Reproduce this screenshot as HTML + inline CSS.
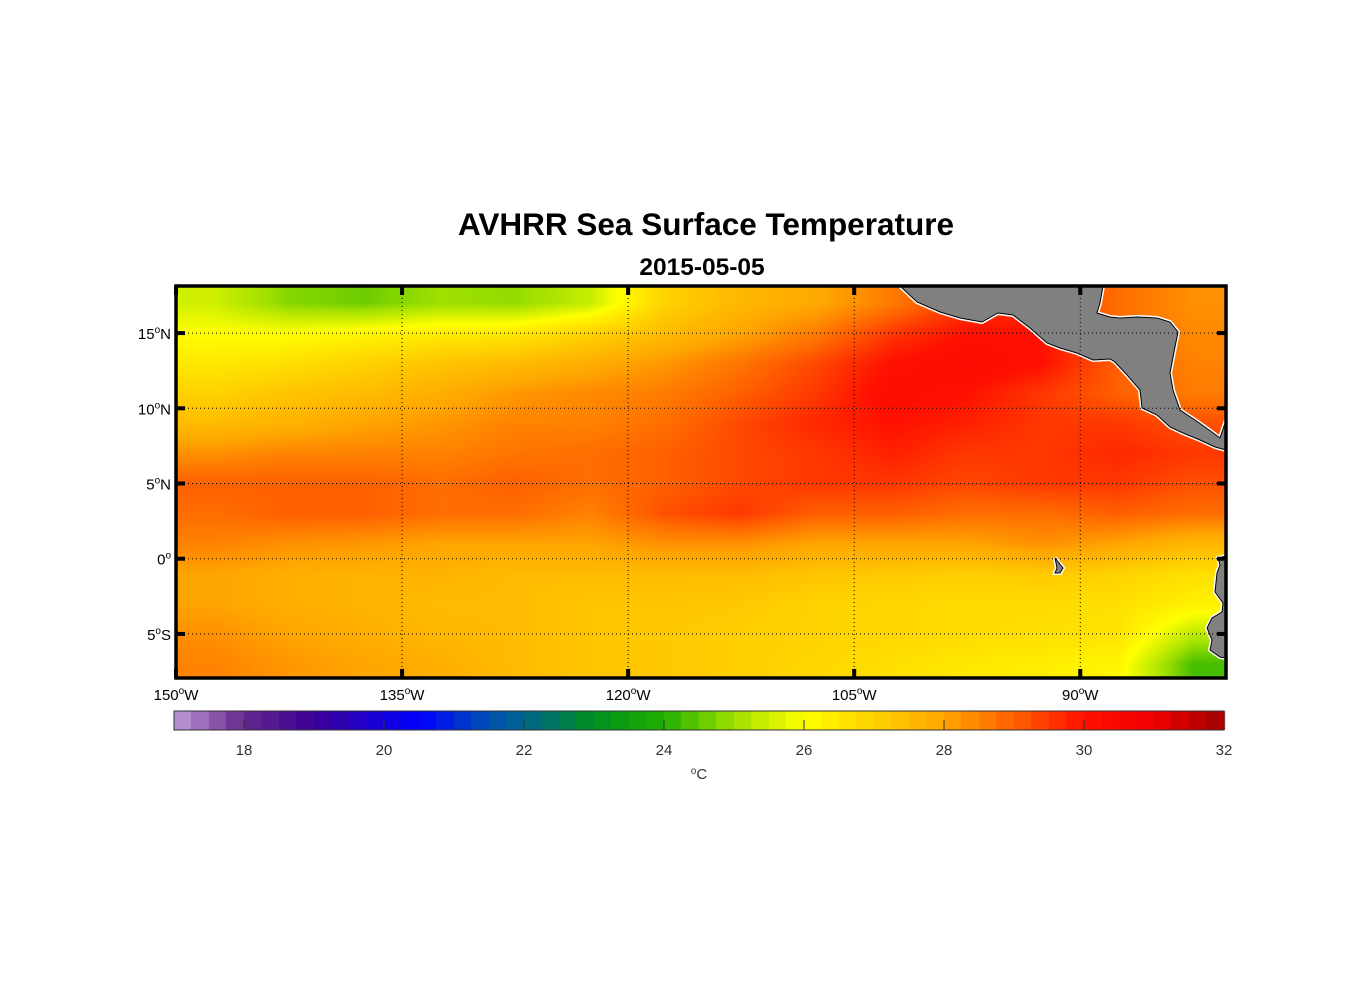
<!DOCTYPE html>
<html><head><meta charset="utf-8">
<style>
body{margin:0;background:#fff;width:1356px;height:1000px;overflow:hidden;font-family:"Liberation Sans",Arial,sans-serif;}
#wrap{position:relative;width:1356px;height:1000px;}
canvas,svg{position:absolute;left:0;top:0;}
</style></head>
<body>
<div id="wrap">
<canvas id="heat" width="1356" height="1000"></canvas>
<svg id="ov" width="1356" height="1000"></svg>
</div>
<script>
// ---- data ----
const lonCenters = [-147.5,-142.5,-137.5,-132.5,-127.5,-122.5,-117.5,-112.5,-107.5,-102.5,-97.5,-92.5,-87.5,-82.5];
const latCenters = [17,15,13,11,9,7,5,3,1,-1,-3,-5,-7];
const sstRow17 = [25.5,24.8,24.6,25.0,24.9,25.4,27.0,27.6,27.9,28.6,29.5,29.6,28.8,28.3];
const sstRow15 = [26.0,26.0,26.2,26.4,26.5,27.0,27.5,28.0,28.6,29.5,30.0,30.0,28.8,28.4];
const sstRow13 = [26.5,26.7,27.0,27.3,27.5,27.8,28.2,28.7,29.3,30.0,30.3,30.0,29.0,28.5];
const sstRow11 = [27.0,27.3,27.5,27.8,28.2,28.4,28.6,29.0,29.5,30.2,30.0,29.5,29.0,28.6];
const sstRow9  = [27.5,27.7,28.0,28.2,28.5,28.5,28.8,29.3,29.7,30.0,29.8,29.5,29.5,29.2];
const sstRow7  = [28.3,28.5,28.5,28.5,28.7,28.8,29.0,29.3,29.5,29.8,29.5,29.5,29.7,29.5];
const sstRow5  = [29.0,29.0,29.0,28.8,29.0,28.8,29.0,29.3,29.5,29.5,29.3,29.5,29.5,29.2];
const sstRow3  = [28.8,29.0,29.0,28.8,28.8,28.5,29.2,29.5,29.0,29.0,28.8,28.8,29.0,28.8];
const sstRow1  = [28.5,28.3,28.2,28.0,28.0,28.0,28.3,28.3,28.0,28.0,28.0,28.3,28.0,27.6];
const sstRowM1 = [28.0,27.8,27.7,27.7,27.5,27.5,27.5,27.5,27.3,27.2,27.1,27.2,27.0,26.7];
const sstRowM3 = [28.0,27.8,27.7,27.5,27.5,27.3,27.3,27.2,27.0,26.9,26.8,26.8,26.7,26.3];
const sstRowM5 = [28.3,28.0,27.8,27.6,27.5,27.3,27.2,27.1,27.0,26.9,26.8,26.7,26.6,25.3];
const sstRowM7 = [28.5,28.2,28.0,27.8,27.5,27.3,27.2,27.1,26.9,26.7,26.5,26.4,26.2,24.3];
const sstGrid = [sstRow17,sstRow15,sstRow13,sstRow11,sstRow9,sstRow7,sstRow5,sstRow3,sstRow1,sstRowM1,sstRowM3,sstRowM5,sstRowM7];
const lonTicks = [-150,-135,-120,-105,-90];
const lonTickLabels = ["150","135","120","105","90"];
const latTicks = [15,10,5,0,-5];
const latTickLabels = ["15","10","5","0","5"];
const latTickSuffix = ["N","N","N","",'S'];
const cbTicks = [18,20,22,24,26,28,30,32];

// ---- axes ----
const X0=176, X1=1226, Y0=286, Y1=678;
const LON0=-150, LON1=-80.33, LAT0=18.13, LAT1=-7.93;
function xOf(lon){return X0+(lon-LON0)/(LON1-LON0)*(X1-X0);}
function yOf(lat){return Y0+(lat-LAT0)/(LAT1-LAT0)*(Y1-Y0);}
const CB0=174, CB1=1224, CBV0=17, CBV1=32;
function cbX(v){return CB0+(v-CBV0)/(CBV1-CBV0)*(CB1-CB0);}

const cmapStops=[[17,[192,154,216]],[18,[100,40,140]],[19,[60,0,150]],[20.5,[0,0,255]],[21.5,[0,80,180]],[22.3,[0,112,112]],[23,[0,144,32]],[24,[32,176,0]],[25,[160,224,0]],[26,[255,255,0]],[27,[255,210,0]],[28,[255,165,0]],[29,[255,96,0]],[30,[255,16,0]],[31,[240,0,0]],[32,[160,0,0]]];
function cmap(v){
  if(v<=cmapStops[0][0]) return cmapStops[0][1];
  for(let i=1;i<cmapStops.length;i++){
    if(v<=cmapStops[i][0]){
      const a=cmapStops[i-1],b=cmapStops[i],t=(v-a[0])/(b[0]-a[0]);
      return [0,1,2].map(k=>Math.round(a[1][k]+(b[1][k]-a[1][k])*t));
    }
  }
  return cmapStops[cmapStops.length-1][1];
}
function interp(lon,lat){
  let fx=(lon-lonCenters[0])/(lonCenters[1]-lonCenters[0]);
  let fy=(lat-latCenters[0])/(latCenters[1]-latCenters[0]);
  fx=Math.max(0,Math.min(lonCenters.length-1.0001,fx));
  fy=Math.max(0,Math.min(latCenters.length-1.0001,fy));
  const i=Math.floor(fx),j=Math.floor(fy),tx=fx-i,ty=fy-j;
  const a=sstGrid[j][i],b=sstGrid[j][i+1],c=sstGrid[j+1][i],d=sstGrid[j+1][i+1];
  return (a*(1-tx)+b*tx)*(1-ty)+(c*(1-tx)+d*tx)*ty;
}
const cv=document.getElementById('heat'),ctx=cv.getContext('2d');
const W=X1-X0,H=Y1-Y0,img=ctx.createImageData(W,H);
for(let py=0;py<H;py++){
  const lat=LAT0+(py+0.5)/H*(LAT1-LAT0);
  for(let px=0;px<W;px++){
    const lon=LON0+(px+0.5)/W*(LON1-LON0);
    const c=cmap(interp(lon,lat)),o=(py*W+px)*4;
    img.data[o]=c[0];img.data[o+1]=c[1];img.data[o+2]=c[2];img.data[o+3]=255;
  }
}
ctx.putImageData(img,X0,Y0);
// colorbar
const nb=60;
for(let k=0;k<nb;k++){
  const v0=CBV0+k*(CBV1-CBV0)/nb, v1=CBV0+(k+1)*(CBV1-CBV0)/nb;
  const c=cmap((v0+v1)/2);
  ctx.fillStyle=`rgb(${c[0]},${c[1]},${c[2]})`;
  ctx.fillRect(Math.floor(cbX(v0)),711,Math.ceil(cbX(v1)-cbX(v0))+1,19);
}

// ---- svg overlay ----
const NS='http://www.w3.org/2000/svg',svg=document.getElementById('ov');
function el(tag,attrs,parent){const e=document.createElementNS(NS,tag);for(const k in attrs)e.setAttribute(k,attrs[k]);(parent||svg).appendChild(e);return e;}
const land1="900,286 917,302 940,312 960,318 982,322 998,313 1013,315 1030,328 1047,343 1060,348 1077,353 1093,360 1110,359 1115,362 1127,375 1140,390 1142,408 1157,415 1170,427 1183,433 1200,440 1215,447 1226,450 1226,420 1220,438 1205,427 1195,420 1180,410 1173,390 1170,373 1175,347 1178,332 1170,322 1157,318 1137,317 1120,318 1110,317 1097,313 1100,303 1103,286";
const land2="1218,558 1220,565 1217,573 1215,592 1223,603 1222,612 1212,618 1207,628 1212,640 1210,650 1220,657 1226,658 1226,556";
const land3="1055,558 1063,568 1060,573 1055,573 1057,568 1056,563";
[[land1,'central-america-land'],[land2,'south-america-land'],[land3,'galapagos-land']].forEach(([p,n])=>{
  const w=el('polygon',{points:p,fill:'none',stroke:'#fff','stroke-width':4});
  
  
  const g=el('polygon',{points:p,fill:'#808080',stroke:'#000','stroke-width':1});
  
  
});
lonTicks.forEach((lon,i)=>{
  const x=xOf(lon);
  if(i>0){const g=el('line',{x1:x,y1:Y0,x2:x,y2:Y1,stroke:'#000','stroke-width':1,'stroke-dasharray':'1,3'});
  
  }
  const t1=el('line',{x1:x,y1:Y0,x2:x,y2:Y0+9,stroke:'#000','stroke-width':4});
  
  
  const t2=el('line',{x1:x,y1:Y1,x2:x,y2:Y1-9,stroke:'#000','stroke-width':4});
  
  
  const tx=el('text',{x:x,y:700,'text-anchor':'middle','font-size':15,fill:'#000'});
  
  
  tx.innerHTML=lonTickLabels[i]+'<tspan dy="-6" font-size="10">o</tspan><tspan dy="6">W</tspan>';
});
latTicks.forEach((lat,i)=>{
  const y=yOf(lat);
  const g=el('line',{x1:X0,y1:y,x2:X1,y2:y,stroke:'#000','stroke-width':1,'stroke-dasharray':'1,3'});
  
  
  const t1=el('line',{x1:X0,y1:y,x2:X0+9,y2:y,stroke:'#000','stroke-width':4});
  
  
  const t2=el('line',{x1:X1,y1:y,x2:X1-9,y2:y,stroke:'#000','stroke-width':4});
  
  
  const tx=el('text',{x:171,y:y+6,'text-anchor':'end','font-size':15,fill:'#000'});
  
  
  tx.innerHTML=latTickLabels[i]+'<tspan dy="-6" font-size="10">o</tspan><tspan dy="6">'+latTickSuffix[i]+'</tspan>';
});
const fr=el('rect',{x:X0,y:Y0,width:X1-X0,height:Y1-Y0,fill:'none',stroke:'#000','stroke-width':3.5});


const t=el('text',{x:706,y:235,'text-anchor':'middle','font-size':31.5,'font-weight':'bold',fill:'#000'});


t.textContent='AVHRR Sea Surface Temperature';
const st=el('text',{x:702,y:275,'text-anchor':'middle','font-size':24.5,'font-weight':'bold',fill:'#000'});


st.textContent='2015-05-05';
const cf=el('rect',{x:CB0,y:711,width:CB1-CB0,height:19,fill:'none',stroke:'#333','stroke-width':1});


cbTicks.forEach(v=>{
  const x=cbX(v);
  const tk=el('line',{x1:x,y1:730,x2:x,y2:720,stroke:'#333','stroke-width':1});
  
  
  const tl=el('text',{x:x,y:755,'text-anchor':'middle','font-size':15,fill:'#333'});
  
  
  tl.textContent=v;
});
const u=el('text',{x:699,y:779,'text-anchor':'middle','font-size':15,fill:'#333'});


u.innerHTML='<tspan dy="-5" font-size="10">o</tspan><tspan dy="5">C</tspan>';
</script>
</body></html>
